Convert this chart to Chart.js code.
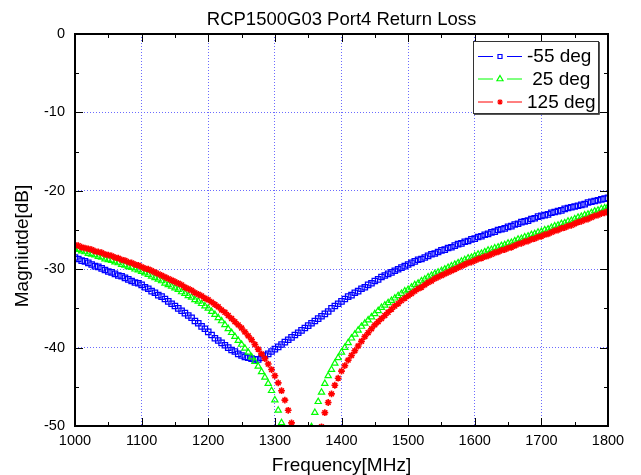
<!DOCTYPE html>
<html>
<head>
<meta charset="utf-8">
<title>RCP1500G03 Port4 Return Loss</title>
<script src="https://cdn.jsdelivr.net/npm/chart.js@4.4.0/dist/chart.umd.min.js"></script>
<style>
    html, body { margin: 0; padding: 0; background: #fff; }
    #returnLossChart { display: block; }
</style>
</head>
<body>
<canvas id="returnLossChart" width="641" height="475"></canvas>
<script>
(function (window) {
    'use strict';

    // sweep: 1000 .. 1800 MHz, one point every 5 MHz (161 points per trace)
    var freqStartMHz = 1000;
    var freqStepMHz = 5;

    var seriesLabels = ['-55 deg', ' 25 deg', '125 deg'];

    // -55 deg (dB), one row = 50 MHz
    var lossMinus55 = [
        -28.5, -28.7, -28.9, -29.0, -29.2, -29.4, -29.6, -29.7, -29.9, -30.1,
        -30.3, -30.4, -30.6, -30.8, -30.9, -31.1, -31.3, -31.5, -31.7, -31.8,
        -32.0, -32.3, -32.5, -32.8, -33.0, -33.3, -33.5, -33.8, -34.1, -34.4,
        -34.7, -35.0, -35.3, -35.6, -35.9, -36.2, -36.6, -36.9, -37.3, -37.6,
        -38.0, -38.4, -38.8, -39.1, -39.4, -39.7, -40.0, -40.3, -40.5, -40.8,
        -41.0, -41.2, -41.3, -41.4, -41.5, -41.5, -41.3, -41.0, -40.8, -40.5,
        -40.2, -39.9, -39.6, -39.3, -39.0, -38.7, -38.4, -38.1, -37.8, -37.5,
        -37.2, -36.9, -36.6, -36.3, -36.0, -35.7, -35.4, -35.0, -34.7, -34.4,
        -34.1, -33.8, -33.5, -33.3, -33.0, -32.8, -32.5, -32.3, -32.0, -31.8,
        -31.5, -31.3, -31.0, -30.8, -30.6, -30.4, -30.2, -30.0, -29.8, -29.6,
        -29.4, -29.2, -29.0, -28.8, -28.7, -28.5, -28.3, -28.1, -28.0, -27.8,
        -27.6, -27.5, -27.3, -27.2, -27.0, -26.8, -26.7, -26.5, -26.4, -26.2,
        -26.1, -25.9, -25.8, -25.6, -25.5, -25.3, -25.2, -25.0, -24.9, -24.8,
        -24.6, -24.5, -24.3, -24.2, -24.0, -23.9, -23.8, -23.6, -23.5, -23.3,
        -23.2, -23.1, -23.0, -22.8, -22.7, -22.6, -22.5, -22.3, -22.2, -22.1,
        -22.0, -21.9, -21.8, -21.7, -21.5, -21.4, -21.3, -21.2, -21.1, -21.0,
        -20.9
    ];

    // 25 deg
    var loss25 = [
        -27.4, -27.5, -27.7, -27.8, -28.0, -28.1, -28.2, -28.4, -28.5, -28.7,
        -28.8, -28.9, -29.1, -29.2, -29.4, -29.5, -29.7, -29.8, -30.0, -30.1,
        -30.3, -30.5, -30.7, -30.9, -31.1, -31.3, -31.5, -31.8, -32.0, -32.2,
        -32.4, -32.6, -32.9, -33.1, -33.4, -33.6, -33.9, -34.1, -34.4, -34.7,
        -35.0, -35.4, -35.8, -36.2, -36.6, -37.1, -37.6, -38.1, -38.6, -39.1,
        -39.6, -40.1, -40.6, -41.2, -41.8, -42.4, -43.1, -43.8, -44.6, -45.5,
        -46.7, -48.0, -49.6, -51.6, -54.2, -57.5, -62.0, -63.0, -58.5, -54.6,
        -52.0, -50.1, -48.3, -46.9, -45.7, -44.6, -43.6, -42.8, -42.0, -41.3,
        -40.6, -40.0, -39.4, -38.8, -38.3, -37.8, -37.3, -36.9, -36.5, -36.1,
        -35.7, -35.3, -34.9, -34.6, -34.3, -34.0, -33.7, -33.4, -33.1, -32.8,
        -32.6, -32.3, -32.0, -31.8, -31.5, -31.3, -31.0, -30.8, -30.6, -30.4,
        -30.2, -30.0, -29.8, -29.6, -29.4, -29.2, -29.0, -28.8, -28.6, -28.5,
        -28.3, -28.1, -28.0, -27.8, -27.6, -27.5, -27.3, -27.2, -27.0, -26.9,
        -26.7, -26.6, -26.4, -26.2, -26.1, -25.9, -25.8, -25.6, -25.5, -25.3,
        -25.2, -25.0, -24.9, -24.7, -24.5, -24.4, -24.2, -24.1, -23.9, -23.8,
        -23.6, -23.4, -23.3, -23.1, -23.0, -22.8, -22.6, -22.5, -22.3, -22.2,
        -22.0
    ];

    // 125 deg
    var loss125 = [
        -26.9, -27.0, -27.2, -27.3, -27.4, -27.5, -27.7, -27.8, -27.9, -28.1,
        -28.2, -28.3, -28.5, -28.6, -28.8, -28.9, -29.1, -29.2, -29.4, -29.5,
        -29.7, -29.9, -30.0, -30.2, -30.4, -30.6, -30.8, -31.0, -31.2, -31.4,
        -31.6, -31.8, -32.0, -32.3, -32.5, -32.7, -33.0, -33.2, -33.4, -33.7,
        -33.9, -34.2, -34.5, -34.8, -35.2, -35.5, -35.9, -36.3, -36.7, -37.1,
        -37.5, -38.0, -38.5, -39.0, -39.6, -40.2, -40.8, -41.4, -42.1, -42.8,
        -43.6, -44.5, -45.5, -46.7, -48.0, -49.6, -51.6, -54.0, -57.5, -62.0,
        -63.0, -58.0, -54.5, -52.0, -50.1, -48.3, -47.0, -45.9, -44.8, -43.9,
        -43.0, -42.3, -41.6, -41.0, -40.4, -39.8, -39.2, -38.6, -38.1, -37.6,
        -37.1, -36.7, -36.3, -35.9, -35.5, -35.1, -34.7, -34.4, -34.0, -33.7,
        -33.4, -33.1, -32.8, -32.5, -32.3, -32.0, -31.7, -31.5, -31.2, -31.0,
        -30.8, -30.6, -30.4, -30.2, -30.0, -29.8, -29.6, -29.4, -29.2, -29.1,
        -28.9, -28.7, -28.6, -28.4, -28.3, -28.1, -27.9, -27.8, -27.6, -27.5,
        -27.3, -27.2, -27.0, -26.8, -26.7, -26.5, -26.4, -26.2, -26.1, -25.9,
        -25.8, -25.6, -25.5, -25.3, -25.1, -25.0, -24.8, -24.7, -24.5, -24.4,
        -24.2, -24.0, -23.9, -23.7, -23.6, -23.4, -23.2, -23.1, -22.9, -22.8,
        -22.6
    ];

    var xTickValues = [1000, 1100, 1200, 1300, 1400, 1500, 1600, 1700, 1800];
    var yTickValues = [-50, -40, -30, -20, -10, 0];

    var FONT = "'Liberation Sans', Arial, Helvetica, sans-serif";
    var seriesColors = ['#0000ff', '#00ff00', '#ff0000'];
    var seriesMarkers = ['rect', 'triangle', 'star'];

    function toPoints(values) {
        return values.map(function (v, i) {
            return { x: freqStartMHz + i * freqStepMHz, y: v };
        });
    }

    function plainNumber(value) {
        return String(value);
    }

    function strokeMarker(ctx, style, x, y, r) {
        ctx.beginPath();
        if (style === 'rect') {
            ctx.rect(x - r, y - r, 2 * r, 2 * r);
        } else if (style === 'triangle') {
            ctx.moveTo(x, y - r);
            ctx.lineTo(x + r * 0.87, y + r * 0.5);
            ctx.lineTo(x - r * 0.87, y + r * 0.5);
            ctx.closePath();
        } else {
            for (var a = 0; a < 4; a++) {
                var ang = a * Math.PI / 4;
                ctx.moveTo(x + r * Math.cos(ang), y + r * Math.sin(ang));
                ctx.lineTo(x - r * Math.cos(ang), y - r * Math.sin(ang));
            }
        }
        ctx.stroke();
    }

    // box, inward ticks, rotated y title and the boxed legend
    var framePlugin = {
        id: 'originFrame',
        afterDatasetsDraw: function (chart) {
            var ctx = chart.ctx;
            var area = chart.chartArea;
            var xs = chart.scales.x;
            var ys = chart.scales.y;
            var i, v, p, len;

            ctx.save();
            ctx.strokeStyle = '#000';
            ctx.lineWidth = 1;
            ctx.beginPath();
            for (i = 0; i < xTickValues.length; i++) {
                for (var h = 0; h < 2; h++) {
                    v = xTickValues[i] + h * 50;
                    if (v > xTickValues[xTickValues.length - 1]) { continue; }
                    p = Math.round(xs.getPixelForValue(v)) + 0.5;
                    len = h === 0 ? 8 : 4;
                    ctx.moveTo(p, area.bottom);
                    ctx.lineTo(p, area.bottom - len);
                    ctx.moveTo(p, area.top);
                    ctx.lineTo(p, area.top + len);
                }
            }
            for (i = 0; i < yTickValues.length; i++) {
                for (var k = 0; k < 2; k++) {
                    v = yTickValues[i] + k * 5;
                    if (v > yTickValues[yTickValues.length - 1]) { continue; }
                    p = Math.round(ys.getPixelForValue(v)) + 0.5;
                    len = k === 0 ? 8 : 4;
                    ctx.moveTo(area.left, p);
                    ctx.lineTo(area.left + len, p);
                    ctx.moveTo(area.right, p);
                    ctx.lineTo(area.right - len, p);
                }
            }
            ctx.stroke();

            ctx.lineWidth = 2;
            ctx.strokeRect(area.left, area.top, area.right - area.left, area.bottom - area.top);
            ctx.restore();
        },
        afterDraw: function (chart) {
            var ctx = chart.ctx;
            var area = chart.chartArea;

            // y axis title
            ctx.save();
            ctx.fillStyle = '#000';
            ctx.font = '19px ' + FONT;
            ctx.textAlign = 'center';
            ctx.textBaseline = 'middle';
            ctx.translate(23, (area.top + area.bottom) / 2 + 16);
            ctx.rotate(-Math.PI / 2);
            ctx.fillText('Magniutde[dB]', 0, 0);
            ctx.restore();

            // legend box
            var bx = 473, by = 41, bw = 125, bh = 72;
            ctx.save();
            ctx.fillStyle = '#fff';
            ctx.fillRect(bx, by, bw, bh);
            ctx.strokeStyle = '#333';
            ctx.lineWidth = 1;
            ctx.strokeRect(bx + 0.5, by + 0.5, bw, bh);
            ctx.strokeStyle = '#555';
            ctx.beginPath();
            ctx.moveTo(bx + bw + 1.5, by + 1);
            ctx.lineTo(bx + bw + 1.5, by + bh + 1.5);
            ctx.lineTo(bx + 1, by + bh + 1.5);
            ctx.stroke();

            var rowY = [56, 78.5, 101.5];
            var markerSize = [2, 3.5, 2.8];
            ctx.font = '19px ' + FONT;
            ctx.textAlign = 'left';
            ctx.textBaseline = 'middle';
            for (var i = 0; i < seriesLabels.length; i++) {
                var y = rowY[i];
                ctx.strokeStyle = seriesColors[i];
                ctx.lineWidth = 1;
                ctx.beginPath();
                ctx.moveTo(478, y + 0.5);
                ctx.lineTo(493, y + 0.5);
                ctx.moveTo(507, y + 0.5);
                ctx.lineTo(522, y + 0.5);
                ctx.stroke();
                ctx.lineWidth = 1.2;
                strokeMarker(ctx, seriesMarkers[i], 500, y + 0.5, markerSize[i]);
                ctx.fillStyle = '#000';
                ctx.fillText(seriesLabels[i], 527, y + 1);
            }
            ctx.restore();
        }
    };

    function makeDataset(index, values, radius, width, order) {
        return {
            label: seriesLabels[index],
            data: toPoints(values),
            showLine: false,
            pointStyle: seriesMarkers[index],
            pointRadius: radius,
            pointBorderWidth: width,
            pointBorderColor: seriesColors[index],
            pointBackgroundColor: 'rgba(0,0,0,0)',
            borderColor: seriesColors[index],
            order: order
        };
    }

    var canvas = document.getElementById('returnLossChart');

    new Chart(canvas, {
        type: 'scatter',
        data: {
            datasets: [
                makeDataset(0, lossMinus55, 3.8, 1.25, 2),
                makeDataset(1, loss25, 3.6, 1.2, 1),
                makeDataset(2, loss125, 3.4, 1.6, 0)
            ]
        },
        options: {
            responsive: false,
            animation: false,
            devicePixelRatio: 1,
            events: [],
            layout: {
                padding: { left: 0, right: 33, top: 0, bottom: 0 }
            },
            plugins: {
                legend: { display: false },
                tooltip: { enabled: false },
                title: {
                    display: true,
                    text: 'RCP1500G03 Port4 Return Loss',
                    fullSize: false,
                    color: '#000',
                    font: { family: FONT, size: 18.5, weight: 'normal', lineHeight: 1 },
                    padding: { top: 11, bottom: 4.5 }
                }
            },
            scales: {
                x: {
                    type: 'linear',
                    position: 'bottom',
                    min: 1000,
                    max: 1800,
                    afterBuildTicks: function (scale) {
                        scale.ticks = xTickValues.map(function (v) { return { value: v }; });
                    },
                    afterFit: function (scale) {
                        scale.height = 49;
                    },
                    ticks: {
                        color: '#000',
                        padding: 6,
                        maxRotation: 0,
                        font: { family: FONT, size: 14.5 },
                        callback: plainNumber
                    },
                    grid: {
                        color: '#6b6bff',
                        lineWidth: 1,
                        drawTicks: false
                    },
                    border: { display: false, dash: [1, 2] },
                    title: {
                        display: true,
                        text: 'Frequency[MHz]',
                        color: '#000',
                        font: { family: FONT, size: 19, lineHeight: 1 },
                        padding: { top: 0, bottom: 0 }
                    }
                },
                y: {
                    type: 'linear',
                    position: 'left',
                    min: -50,
                    max: 0,
                    afterBuildTicks: function (scale) {
                        scale.ticks = yTickValues.map(function (v) { return { value: v }; });
                    },
                    afterFit: function (scale) {
                        scale.width = 75;
                    },
                    ticks: {
                        color: '#000',
                        padding: 10,
                        font: { family: FONT, size: 14.5 },
                        callback: plainNumber
                    },
                    grid: {
                        color: '#6b6bff',
                        lineWidth: 1,
                        drawTicks: false
                    },
                    border: { display: false, dash: [1, 2] }
                }
            }
        },
        plugins: [framePlugin]
    });
})(window);
</script>
</body>
</html>
